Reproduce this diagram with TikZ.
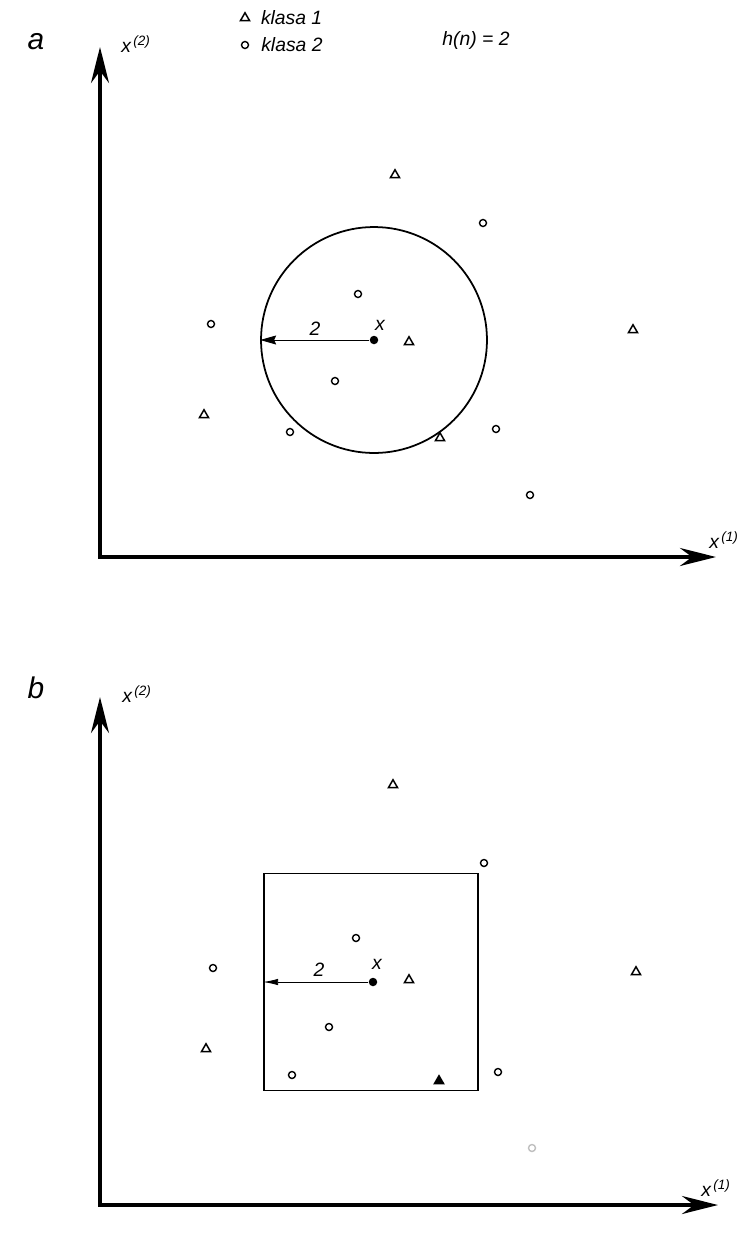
\documentclass[tikz,border=0pt]{standalone}
\usepackage{fontspec}
\setmainfont{Liberation Sans}
\usepackage{tikz}
\usetikzlibrary{arrows.meta,shapes.geometric,positioning}

\begin{document}
\begin{tikzpicture}[x=0.02cm,y=-0.02cm,
  axis/.style={line width=2.2pt,{Stealth[length=0.72cm,width=0.36cm,inset=0.24cm]}-{Stealth[length=0.72cm,width=0.36cm,inset=0.24cm]}},
  tri/.style={shape=regular polygon,regular polygon sides=3,draw=black,line width=0.85pt,inner sep=0pt,minimum size=0.21cm},
  ring/.style={shape=circle,draw=black,line width=0.8pt,inner sep=0pt,minimum size=0.14cm},
  query/.style={shape=circle,fill=black,inner sep=0pt,minimum size=0.17cm},
  lbl/.style={font=\itshape\fontsize{11}{11}\selectfont,inner sep=1pt},
  big/.style={font=\itshape\fontsize{17}{17}\selectfont,inner sep=1pt}]
  \useasboundingbox (0,0) rectangle (746,1238);

  % legend
  \node[tri] (lt) at (245,18) {};
  \node[ring] (lc) at (245,45) {};
  \node[lbl,right=0.2cm of lt] (k1) {klasa 1};
  \node[lbl,right=0.2cm of lc] (k2) {klasa 2};
  \node[lbl] (hn) at (476,40) {h(n) = 2};

  % a
  \node[big] (la) at (36,42) {a};
  \coordinate (Ya) at (100,47);
  \coordinate (Oa) at (100,557);
  \coordinate (Xa) at (716,557);
  \draw[axis] (Ya) -- (Oa) -- (Xa);
  \node[lbl] (x2a) at (136,44) {x\textsuperscript{\,(2)}};
  \node[lbl] (x1a) at (724,540) {x\textsuperscript{\,(1)}};

  \node[shape=circle,draw=black,line width=1pt,inner sep=0pt,minimum size=4.52cm] (ballA) at (374,340) {};
  \node[query] (xa) at (374,340) {};
  \draw[line width=0.5pt,-{Stealth[length=0.32cm,width=0.18cm,inset=0.04cm]}] (xa) -- (ballA.west);
  \node[lbl] (ra) at (315,329) {2};
  \node[lbl] (qa) at (380,325) {x};

  \node[tri] (ta1) at (395,175) {};
  \node[tri] (ta2) at (409,342) {};
  \node[tri] (ta3) at (633,330) {};
  \node[tri] (ta4) at (204,415) {};
  \node[tri] (ta5) at (440,438) {};
  \node[ring] (ca1) at (483,223) {};
  \node[ring] (ca2) at (358,294) {};
  \node[ring] (ca3) at (211,324) {};
  \node[ring] (ca4) at (335,381) {};
  \node[ring] (ca5) at (290,432) {};
  \node[ring] (ca6) at (496,429) {};
  \node[ring] (ca7) at (530,495) {};

  % b
  \node[big] (lb) at (36,688) {b};
  \coordinate (Yb) at (100,697);
  \coordinate (Ob) at (100,1205);
  \coordinate (Xb) at (718,1205);
  \draw[axis] (Yb) -- (Ob) -- (Xb);
  \node[lbl] (x2b) at (137,694) {x\textsuperscript{\,(2)}};
  \node[lbl] (x1b) at (716,1188) {x\textsuperscript{\,(1)}};

  \node[draw=black,line width=1pt,inner sep=0pt,minimum width=4.28cm,minimum height=4.34cm] (boxB) at (371,982) {};
  \node[query] (xb) at (373,982) {};
  \draw[line width=0.5pt,-{Latex[length=0.3cm,width=0.13cm]}] (xb) -- (boxB.west);
  \node[lbl] (rb) at (319,970) {2};
  \node[lbl] (qb) at (377,964) {x};

  \node[tri] (tb1) at (393,785) {};
  \node[tri] (tb2) at (409,980) {};
  \node[tri] (tb3) at (636,972) {};
  \node[tri] (tb4) at (206,1049) {};
  \node[tri,fill=black] (tb5) at (439,1081) {};
  \node[ring] (cb1) at (484,863) {};
  \node[ring] (cb2) at (356,938) {};
  \node[ring] (cb3) at (213,968) {};
  \node[ring] (cb4) at (329,1027) {};
  \node[ring] (cb5) at (292,1075) {};
  \node[ring] (cb6) at (498,1072) {};
  \node[ring,draw=gray!50] (cb7) at (532,1148) {};
\end{tikzpicture}
\end{document}
